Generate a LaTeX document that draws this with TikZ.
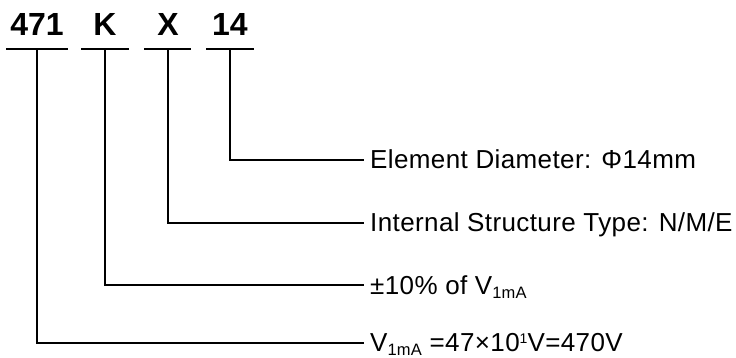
\documentclass[tikz,border=0pt]{standalone}
\usepackage{fontspec}
\setmainfont{Liberation Sans}
\newfontfamily\lblfont[LetterSpace=1.5]{Liberation Sans}
\newcommand{\sbs}[1]{\raisebox{-4pt}{\fontsize{16.5}{17}\selectfont #1}}
\newcommand{\sps}[1]{\raisebox{8pt}{\fontsize{14}{14}\selectfont #1}}
\tikzset{
  code/.style={font=\fontsize{32}{36}\selectfont\bfseries, inner sep=0pt, anchor=base},
  desc/.style={font=\lblfont\fontsize{26}{30}\selectfont, inner sep=0pt, anchor=base west},
  ln/.style={line width=1.5pt, line cap=rect}
}
\begin{document}
\begin{tikzpicture}[x=1pt,y=-1pt]
\useasboundingbox (0,0) rectangle (736,358);
% top codes
\node[code] (c1) at (37,36) {471};
\node[code] (c2) at (105,36) {K};
\node[code] (c3) at (168,36) {X};
\node[code] (c4) at (230,36) {14};
% underlines
\draw[ln] (7,49) -- (67,49);
\draw[ln] (82,49) -- (128,49);
\draw[ln] (145,49) -- (190,49);
\draw[ln] (207,49) -- (253,49);
\coordinate (s1) at (37,49);
\coordinate (s2) at (105,49);
\coordinate (s3) at (168,49);
\coordinate (s4) at (230,49);
\coordinate (e1) at (363,343);
\coordinate (e2) at (363,285);
\coordinate (e3) at (363,223);
\coordinate (e4) at (363,160);
% labels
\node[desc] (d4) at (370,169) {Element Diameter: Φ14mm};
\node[desc] (d3) at (370,232) {Internal Structure Type: N/M/E};
\node[desc] (d2) at (370,294) {±10\% of V\sbs{1mA}};
\node[desc] (d1) at (370,351) {V\sbs{1mA} =47×10\sps{1}V=470V};
% connectors
\draw[ln] (s1) |- (e1);
\draw[ln] (s2) |- (e2);
\draw[ln] (s3) |- (e3);
\draw[ln] (s4) |- (e4);
\end{tikzpicture}
\end{document}
